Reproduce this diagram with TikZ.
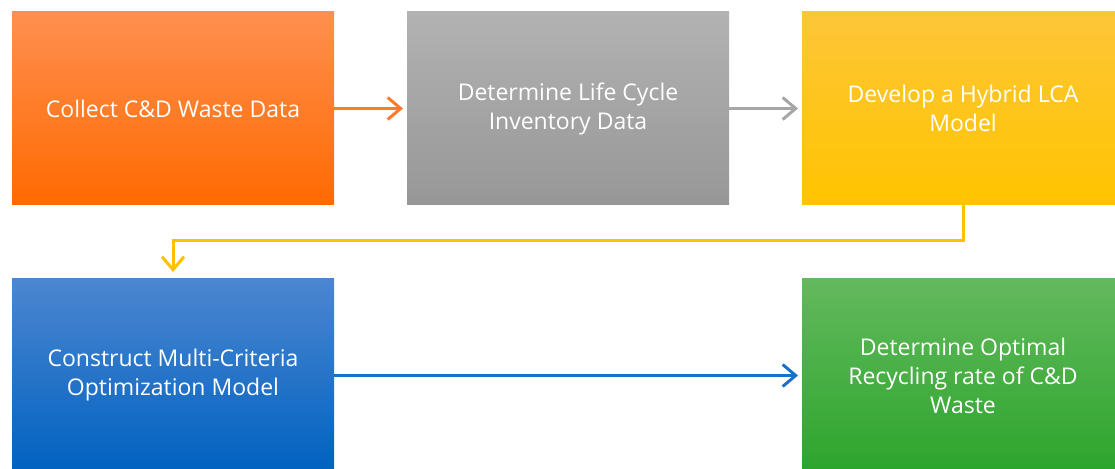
\documentclass[tikz,border=0pt]{standalone}
\usepackage{fontspec}
\setmainfont{Open Sans}
\usetikzlibrary{arrows.meta}
\definecolor{orT}{HTML}{FF8F50}
\definecolor{orB}{HTML}{FF6A00}
\definecolor{grT}{HTML}{B2B2B2}
\definecolor{grB}{HTML}{979797}
\definecolor{yeT}{HTML}{FDC638}
\definecolor{yeB}{HTML}{FFC400}
\definecolor{blT}{HTML}{4C86D0}
\definecolor{blB}{HTML}{0062C0}
\definecolor{gnT}{HTML}{63B95D}
\definecolor{gnB}{HTML}{2CA52C}
\definecolor{orA}{HTML}{FF7A2A}
\definecolor{grA}{HTML}{A6A6A6}
\definecolor{yeA}{HTML}{FFC000}
\definecolor{blA}{HTML}{1A6FC9}
\tikzset{
  box/.style={minimum width=322pt, minimum height=193pt, inner sep=0pt, outer sep=0pt,
    text=white, align=center, font=\fontsize{23}{29}\selectfont},
  conn/.style={line width=3pt, -{Straight Barb[length=13pt,width=22pt,line width=3pt]}, shorten >=4pt}
}
\begin{document}
\begin{tikzpicture}[x=1pt,y=1pt]
\useasboundingbox (0,0) rectangle (1115,468);
\clip (0,0) rectangle (1115,468);
\node[box, top color=orT, bottom color=orB] (collect) at (173,359.5) {Collect C\&D Waste Data};
\node[box, top color=grT, bottom color=grB] (inventory) at (568,359.5) {Determine Life Cycle\\Inventory Data};
\node[box, top color=yeT, bottom color=yeB] (hybrid) at (963,359.5) {Develop a Hybrid LCA\\Model};
\node[box, top color=blT, bottom color=blB] (construct) at (173,92.5) {Construct Multi-Criteria\\Optimization Model};
\node[box, top color=gnT, bottom color=gnB] (optimal) at (963,92.5) {Determine Optimal\\Recycling rate of C\&D\\Waste};
\draw[conn, orA] (collect.east) -- (inventory.west);
\draw[conn, grA] (inventory.east) -- (hybrid.west);
\draw[conn, yeA, shorten >=7pt] (hybrid.south) |- ++(0,-36) -| (construct.north);
\draw[conn, blA] (construct.east) -- (optimal.west);
\end{tikzpicture}
\end{document}
